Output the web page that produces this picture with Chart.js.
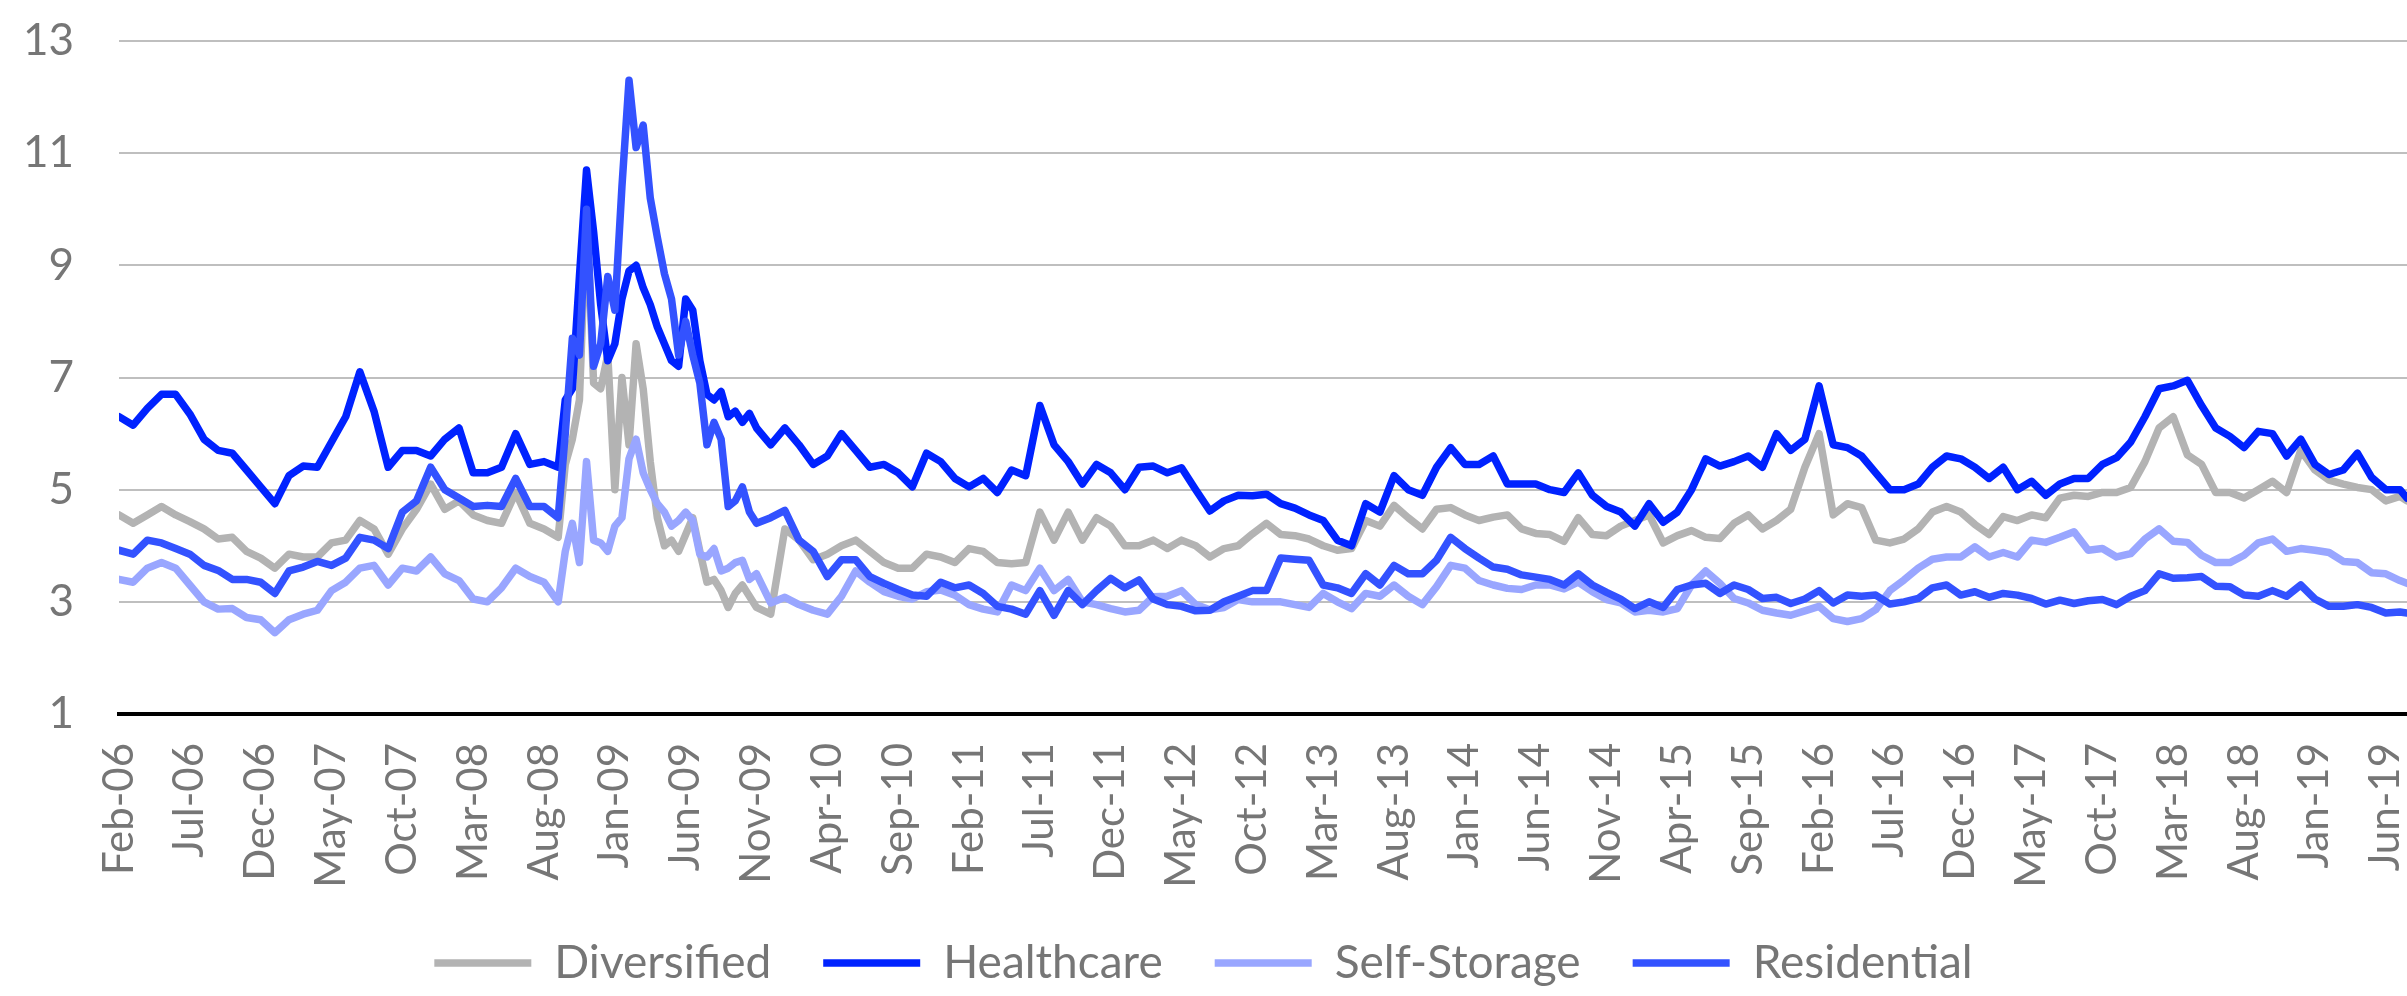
<!DOCTYPE html>
<html>
<head>
<meta charset="utf-8">
<script src="https://cdn.jsdelivr.net/npm/chart.js@4.4.1/dist/chart.umd.min.js"></script>
<style>
  html, body { margin: 0; padding: 0; background: #fff; }
  #wrap { width: 2407px; height: 996px; }
</style>
</head>
<body>
<div id="wrap"><canvas id="chart"></canvas></div>
<script>
// x-axis labels, one every 5 months starting Feb-06
const tickLabels = ['Feb-06','Jul-06','Dec-06','May-07','Oct-07','Mar-08','Aug-08','Jan-09','Jun-09','Nov-09',
  'Apr-10','Sep-10','Feb-11','Jul-11','Dec-11','May-12','Oct-12','Mar-13','Aug-13','Jan-14','Jun-14','Nov-14',
  'Apr-15','Sep-15','Feb-16','Jul-16','Dec-16','May-17','Oct-17','Mar-18','Aug-18','Jan-19','Jun-19'];

// months since Feb-06 (half-month steps through the 2008-09 spike)
const months = [0,1,2,3,4,5,6,7,8,9,10,11,12,13,14,15,16,17,18,19,20,21,22,23,24,25,26,27,28,29,30,
  31,31.5,32,32.5,33,33.5,34,34.5,35,35.5,36,36.5,37,37.5,38,38.5,39,39.5,40,40.5,41,41.5,42,42.5,43,43.5,44,44.5,45,
  46,47,48,49,50,51,52,53,54,55,56,57,58,59,60,61,62,63,64,65,66,67,68,69,70,71,72,73,74,75,
  76,77,78,79,80,81,82,83,84,85,86,87,88,89,90,91,92,93,94,95,96,97,98,99,100,101,102,103,104,105,
  106,107,108,109,110,111,112,113,114,115,116,117,118,119,120,121,122,123,124,125,126,127,128,129,130,
  131,132,133,134,135,136,137,138,139,140,141,142,143,144,145,146,147,148,149,150,151,152,153,154,155,
  156,157,158,159,160,161,161.5];

const diversified = [4.55,4.4,4.55,4.7,4.55,4.43,4.3,4.12,4.15,3.9,3.78,3.6,3.85,3.8,3.8,4.05,4.1,4.45,4.3,3.85,
  4.3,4.65,5.1,4.65,4.8,4.55,4.45,4.4,4.95,4.4,4.3,
  4.15,5.45,5.9,6.6,10.0,6.9,6.8,7.4,5.0,7.0,5.8,7.6,6.8,5.5,4.5,4.0,4.1,3.9,4.2,4.5,3.9,3.35,3.4,3.2,2.9,3.15,3.3,3.1,2.9,
  2.78,4.3,4.1,3.75,3.85,4.0,4.1,3.9,3.7,3.6,3.6,3.85,3.8,3.7,3.95,3.9,3.7,3.68,3.7,4.6,
  4.1,4.6,4.1,4.5,4.35,4.0,4.0,4.1,3.95,4.1,4.0,3.8,3.95,4.0,4.21,4.4,4.2,4.18,4.12,4.0,
  3.92,3.95,4.45,4.35,4.72,4.5,4.3,4.65,4.68,4.55,4.45,4.51,4.55,4.3,4.22,4.2,4.08,4.5,4.2,4.18,
  4.35,4.45,4.55,4.05,4.18,4.27,4.15,4.13,4.4,4.55,4.3,4.45,4.65,5.4,6.0,4.55,4.75,4.68,4.1,4.05,
  4.12,4.3,4.6,4.7,4.6,4.38,4.2,4.52,4.45,4.55,4.5,4.85,4.9,4.88,4.95,4.95,5.04,5.5,6.1,6.3,
  5.62,5.45,4.95,4.95,4.85,5.0,5.15,4.95,5.7,5.35,5.17,5.1,5.04,5.0,4.8,4.88,4.8];

const healthcare = [6.3,6.15,6.45,6.7,6.7,6.35,5.9,5.7,5.65,5.35,5.05,4.75,5.25,5.42,5.4,5.85,6.3,7.1,6.4,5.4,
  5.7,5.7,5.6,5.9,6.1,5.3,5.3,5.4,6.0,5.45,5.5,
  5.4,6.6,6.8,8.8,10.7,9.6,8.3,7.3,7.6,8.4,8.9,9.0,8.6,8.3,7.9,7.6,7.3,7.2,8.4,8.2,7.3,6.7,6.6,6.75,6.3,6.4,6.2,6.36,6.1,
  5.8,6.1,5.8,5.45,5.6,6.0,5.7,5.4,5.45,5.3,5.05,5.65,5.5,5.2,5.05,5.2,4.95,5.35,5.25,6.5,
  5.8,5.5,5.1,5.45,5.3,5.0,5.4,5.42,5.3,5.39,5.0,4.62,4.8,4.9,4.89,4.92,4.75,4.67,4.55,4.45,
  4.1,4.0,4.75,4.6,5.25,5.0,4.9,5.4,5.75,5.45,5.45,5.6,5.1,5.1,5.1,5.0,4.95,5.3,4.9,4.7,
  4.6,4.35,4.75,4.42,4.6,5.0,5.55,5.42,5.5,5.6,5.4,6.0,5.7,5.9,6.85,5.8,5.75,5.6,5.3,5.0,
  5.0,5.1,5.4,5.6,5.55,5.4,5.2,5.4,5.0,5.15,4.9,5.1,5.2,5.2,5.45,5.57,5.85,6.3,6.8,6.85,
  6.95,6.5,6.1,5.95,5.75,6.04,6.0,5.6,5.9,5.45,5.27,5.35,5.65,5.22,5.0,5.0,4.85];

const selfStorage = [3.4,3.35,3.6,3.7,3.6,3.3,3.0,2.87,2.88,2.72,2.68,2.45,2.68,2.78,2.85,3.2,3.35,3.6,3.65,3.3,
  3.6,3.55,3.8,3.5,3.38,3.05,3.0,3.25,3.6,3.45,3.35,
  3.0,3.9,4.4,3.7,5.5,4.1,4.05,3.9,4.35,4.5,5.55,5.9,5.3,5.0,4.75,4.6,4.35,4.45,4.6,4.45,3.85,3.8,3.95,3.55,3.6,3.7,3.74,3.4,3.5,
  2.98,3.08,2.95,2.85,2.78,3.1,3.55,3.35,3.18,3.1,3.05,3.18,3.21,3.12,2.95,2.87,2.82,3.3,3.2,3.6,
  3.2,3.4,3.0,2.95,2.88,2.82,2.85,3.09,3.1,3.2,2.95,2.86,2.9,3.04,3.0,3.0,3.0,2.95,2.9,3.15,
  3.0,2.88,3.15,3.1,3.3,3.1,2.95,3.27,3.65,3.6,3.38,3.3,3.24,3.22,3.3,3.3,3.23,3.35,3.18,3.04,
  2.98,2.82,2.85,2.82,2.88,3.3,3.55,3.33,3.06,2.98,2.85,2.8,2.76,2.84,2.92,2.7,2.65,2.7,2.86,3.2,
  3.39,3.6,3.76,3.8,3.8,3.98,3.8,3.88,3.8,4.1,4.06,4.15,4.25,3.92,3.95,3.8,3.86,4.12,4.3,4.08,
  4.06,3.83,3.7,3.7,3.83,4.05,4.12,3.9,3.95,3.92,3.88,3.72,3.7,3.52,3.5,3.38,3.33];

const residential = [3.92,3.85,4.1,4.05,3.95,3.85,3.65,3.56,3.4,3.4,3.35,3.15,3.55,3.62,3.72,3.65,3.78,4.15,4.1,3.95,
  4.6,4.8,5.4,5.0,4.85,4.7,4.72,4.7,5.2,4.7,4.7,
  4.5,6.0,7.7,7.4,10.0,7.2,7.6,8.8,8.2,10.4,12.3,11.1,11.5,10.2,9.5,8.85,8.4,7.4,8.0,7.4,6.9,5.8,6.2,5.9,4.7,4.8,5.05,4.6,4.4,
  4.5,4.63,4.1,3.9,3.45,3.75,3.75,3.45,3.33,3.22,3.12,3.1,3.35,3.25,3.3,3.15,2.92,2.87,2.78,3.2,
  2.76,3.2,2.95,3.2,3.42,3.25,3.39,3.05,2.95,2.92,2.84,2.85,3.0,3.1,3.2,3.2,3.78,3.76,3.74,3.3,
  3.25,3.15,3.5,3.3,3.65,3.5,3.5,3.74,4.15,3.95,3.78,3.62,3.58,3.48,3.44,3.4,3.3,3.5,3.3,3.17,
  3.05,2.88,3.0,2.9,3.22,3.3,3.33,3.15,3.3,3.22,3.06,3.08,2.97,3.05,3.2,2.98,3.12,3.1,3.12,2.96,
  3.0,3.06,3.25,3.3,3.12,3.18,3.08,3.15,3.12,3.06,2.96,3.03,2.97,3.02,3.04,2.95,3.1,3.2,3.5,3.42,
  3.43,3.45,3.28,3.27,3.12,3.1,3.2,3.1,3.3,3.05,2.92,2.92,2.95,2.9,2.8,2.82,2.8];

const seriesNames = ['Diversified', 'Healthcare', 'Self-Storage', 'Residential'];
const seriesColors = ['#B3B3B3', '#0022FF', '#99A6FF', '#3352FF'];
const seriesValues = [diversified, healthcare, selfStorage, residential];

const textColor = '#767676';
const fontFamily = 'Lato, "Open Sans", sans-serif';

const datasets = seriesValues.map((vals, i) => ({
    label: seriesNames[i],
    data: months.map((m, j) => ({ x: m, y: vals[j] })),
    borderColor: seriesColors[i],
    backgroundColor: seriesColors[i],
    borderWidth: 7.5,
    borderCapStyle: 'round',
    borderJoinStyle: 'round',
    pointRadius: 0,
    tension: 0,
    // excel draws the first series underneath
    order: seriesNames.length - i,
}));

const ctx = document.getElementById('chart').getContext('2d');
new Chart(ctx, {
    type: 'line',
    data: { datasets },
    options: {
        responsive: true,
        maintainAspectRatio: false,
        animation: false,
        layout: { padding: { top: 41, right: 0, left: 0, bottom: 0 } },
        scales: {
            x: {
                type: 'linear',
                min: 0,
                max: 161.5,
                afterBuildTicks: (axis) => {
                    axis.ticks = tickLabels.map((_, i) => ({ value: i * 5 }));
                },
                afterFit: (axis) => {
                    axis.height = 174;
                    axis.paddingLeft = 0;
                    axis.paddingRight = 0;
                },
                grid: { display: false, drawTicks: false },
                border: { display: true, color: '#000000', width: 4 },
                ticks: {
                    autoSkip: false,
                    minRotation: 90,
                    maxRotation: 90,
                    padding: 29,
                    color: textColor,
                    font: { family: fontFamily, size: 42 },
                    callback: (value, index) => tickLabels[index],
                },
            },
            y: {
                min: 1,
                max: 13,
                afterFit: (axis) => {
                    axis.width = 119;
                    axis.paddingTop = 0;
                    axis.paddingBottom = 0;
                },
                grid: { color: '#BFBFBF', lineWidth: 2, drawTicks: false },
                border: { display: false },
                ticks: {
                    stepSize: 2,
                    padding: 45,
                    color: textColor,
                    font: { family: fontFamily, size: 44 },
                },
            },
        },
        plugins: {
            tooltip: { enabled: false },
            legend: {
                position: 'bottom',
                labels: {
                    usePointStyle: true,
                    pointStyle: 'line',
                    pointStyleWidth: 97,
                    padding: 52,
                    color: textColor,
                    font: { family: fontFamily, size: 46 },
                    sort: (a, b) => a.datasetIndex - b.datasetIndex,
                },
            },
        },
    },
});
</script>
</body>
</html>
